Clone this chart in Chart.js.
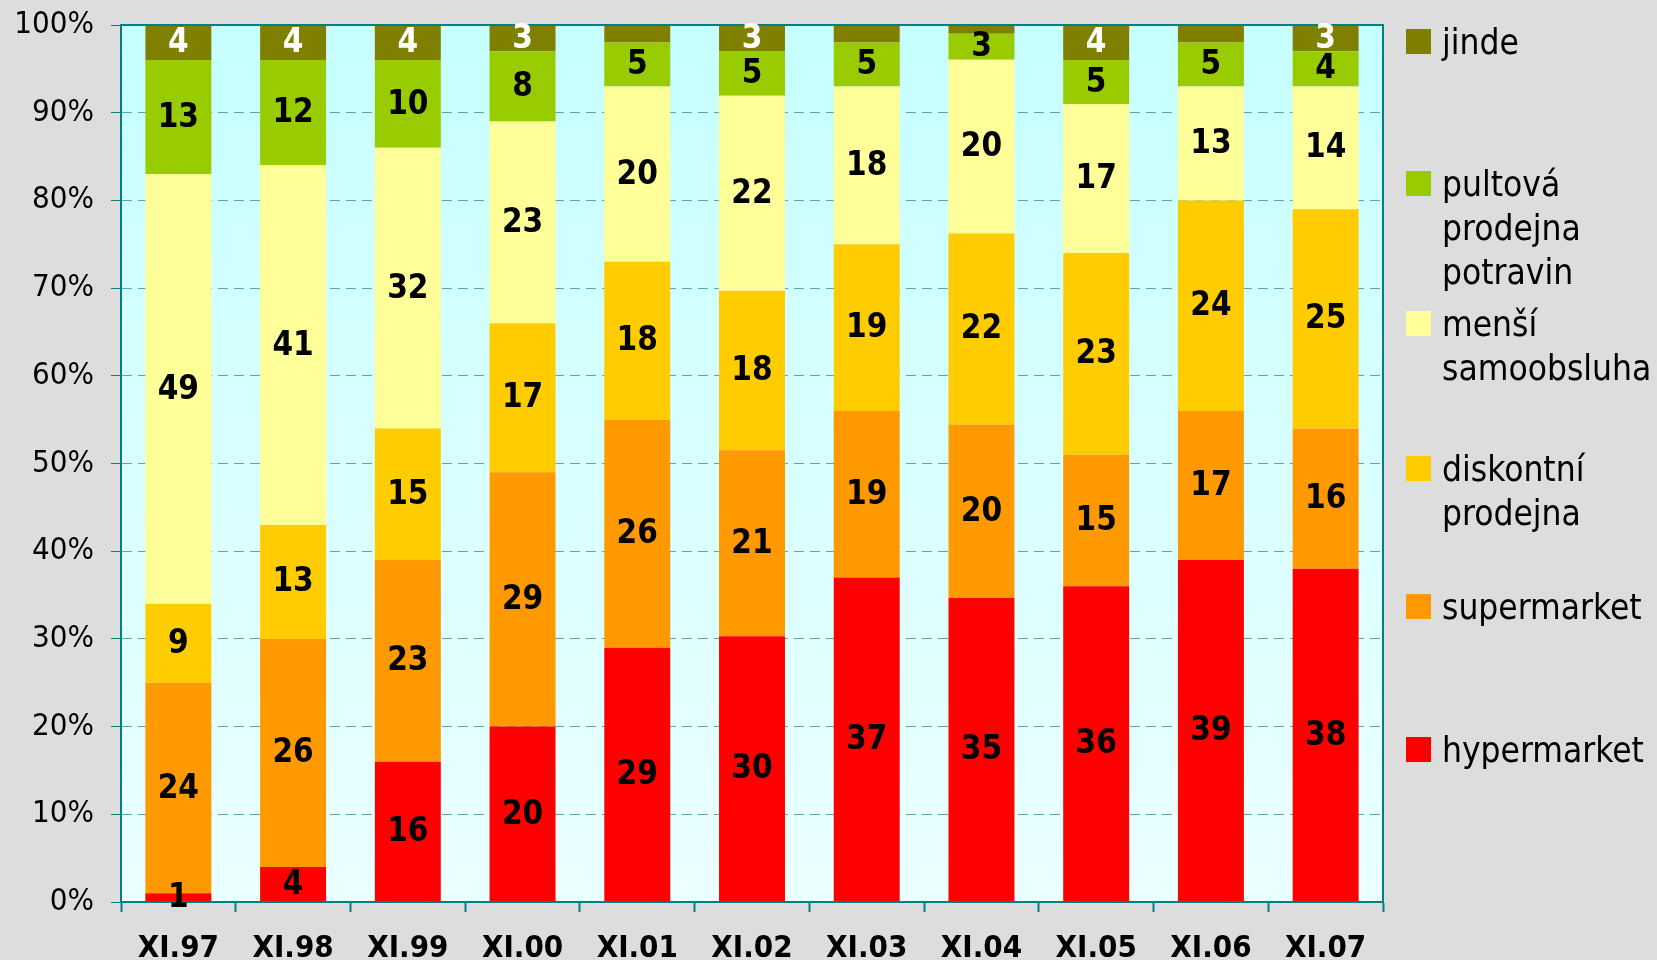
<!DOCTYPE html>
<html>
<head>
<meta charset="utf-8">
<script src="https://cdn.jsdelivr.net/npm/chart.js@4.4.0/dist/chart.umd.min.js"></script>
<style>
  html, body { margin: 0; padding: 0; background: #dddddd; }
  #wrap { position: relative; width: 1657px; height: 960px; overflow: hidden; }
  #legend { position: absolute; left: 0; top: 0; width: 1657px; height: 960px; pointer-events: none; }
  .item { position: absolute; left: 1442px; font-family: 'DejaVu Sans Condensed', 'DejaVu Sans', sans-serif; font-size: 35px; line-height: 44px; color: #000; white-space: nowrap; }
  .sw { position: absolute; left: -36px; top: 9px; width: 25px; height: 25px; }
</style>
</head>
<body>
<div id="wrap">
  <canvas id="c" width="1657" height="960"></canvas>
  <div id="legend"></div>
</div>
<script>
// ---- data ----
const categories = ['XI.97','XI.98','XI.99','XI.00','XI.01','XI.02','XI.03','XI.04','XI.05','XI.06','XI.07'];
const hypermarket = [1, 4, 16, 20, 29, 30, 37, 35, 36, 39, 38];
const supermarket = [24, 26, 23, 29, 26, 21, 19, 20, 15, 17, 16];
const diskontni   = [9, 13, 15, 17, 18, 18, 19, 22, 23, 24, 25];
const mensi       = [49, 41, 32, 23, 20, 22, 18, 20, 17, 13, 14];
const pultova     = [13, 12, 10, 8, 5, 5, 5, 3, 5, 5, 4];
const jinde       = [4, 4, 4, 3, 2, 3, 2, 1, 4, 2, 3];
const seriesNames = ['hypermarket', 'supermarket', ['diskontní','prodejna'], ['menší','samoobsluha'], ['pultová','prodejna','potravin'], 'jinde'];
const seriesValues = [hypermarket, supermarket, diskontni, mensi, pultova, jinde];
const seriesColors = ['#ff0000', '#ff9900', '#ffcc00', '#ffff99', '#99cc00', '#808000'];
const labelColors  = ['#000', '#000', '#000', '#000', '#000', '#fff'];
const yTicks = [0,10,20,30,40,50,60,70,80,90,100];

// ---- layout constants ----
const legendTops = [728, 585, 447, 302, 162, 20]; // per series (same order as seriesValues)
const TEAL = '#008080';

const totals = categories.map((_, i) => seriesValues.reduce((s, arr) => s + arr[i], 0));

const datasets = seriesValues.map((vals, k) => ({
  label: Array.isArray(seriesNames[k]) ? seriesNames[k].join(' ') : seriesNames[k],
  data: vals.map((v, i) => v / totals[i] * 100),
  raw: vals,
  backgroundColor: seriesColors[k],
  borderWidth: 0,
  barPercentage: 0.575,
  categoryPercentage: 1.0
}));

const bgPlugin = {
  id: 'bg',
  beforeDraw(chart) {
    const a = chart.chartArea, ctx = chart.ctx;
    const g = ctx.createLinearGradient(0, a.top, 0, a.bottom);
    g.addColorStop(0, '#c6ffff');
    g.addColorStop(1, '#ebffff');
    ctx.save();
    ctx.fillStyle = g;
    ctx.fillRect(a.left, a.top, a.right - a.left, a.bottom - a.top);
    ctx.restore();
  }
};

const framePlugin = {
  id: 'frame',
  afterDatasetsDraw(chart) {
    const a = chart.chartArea, ctx = chart.ctx;
    ctx.save();
    ctx.strokeStyle = TEAL;
    ctx.lineWidth = 2;
    ctx.strokeRect(a.left, a.top, a.right - a.left, a.bottom - a.top);
    ctx.restore();
  }
};

const labelPlugin = {
  id: 'vlabels',
  afterDatasetsDraw(chart) {
    const ctx = chart.ctx;
    ctx.save();
    ctx.font = "bold 33px 'DejaVu Sans Condensed', 'DejaVu Sans', sans-serif";
    ctx.textAlign = 'center';
    ctx.textBaseline = 'middle';
    chart.data.datasets.forEach((ds, k) => {
      const meta = chart.getDatasetMeta(k);
      meta.data.forEach((el, i) => {
        const v = ds.raw[i];
        if (v < 3 && k === 5) return;
        const y = (el.y + el.base) / 2;
        ctx.fillStyle = labelColors[k];
        ctx.fillText(String(v), el.x, y + 1);
      });
    });
    ctx.restore();
  }
};

new Chart(document.getElementById('c'), {
  type: 'bar',
  data: { labels: categories, datasets },
  plugins: [bgPlugin, framePlugin, labelPlugin],
  options: {
    responsive: false,
    animation: false,
    layout: { padding: { left: 0, top: 25, right: 274, bottom: 0 } },
    plugins: { legend: { display: false }, tooltip: { enabled: false } },
    scales: {
      x: {
        stacked: true,
        afterFit(s) { s.height = 58; s.paddingLeft = 0; s.paddingRight = 0; },
        grid: { drawOnChartArea: false, tickLength: 10, tickColor: TEAL, tickWidth: 2, offset: true },
        border: { color: TEAL, width: 2 },
        ticks: { color: '#000', padding: 18, maxRotation: 0, font: { family: "'DejaVu Sans Condensed', 'DejaVu Sans', sans-serif", size: 31, weight: 'bold' } }
      },
      y: {
        stacked: true,
        min: 0, max: 100,
        afterFit(s) { s.width = 121; s.paddingTop = 0; s.paddingBottom = 0; },
        afterBuildTicks(s) { s.ticks = yTicks.map(v => ({ value: v })); },
        grid: { color: '#5aa9a9', lineWidth: 1, tickLength: 10, tickColor: TEAL, tickWidth: 1 },
        border: { color: TEAL, width: 2, dash: [10, 6] },
        ticks: { color: '#000', padding: 17, callback: v => v + '%', font: { family: "'DejaVu Sans Condensed', 'DejaVu Sans', sans-serif", size: 31 } }
      }
    }
  }
});

// ---- HTML legend ----
const leg = document.getElementById('legend');
seriesNames.forEach((name, k) => {
  const d = document.createElement('div');
  d.className = 'item';
  d.style.top = legendTops[k] + 'px';
  const sw = document.createElement('span');
  sw.className = 'sw';
  sw.style.background = seriesColors[k];
  d.appendChild(sw);
  const lines = Array.isArray(name) ? name : [name];
  lines.forEach((ln, j) => {
    if (j) d.appendChild(document.createElement('br'));
    d.appendChild(document.createTextNode(ln));
  });
  leg.appendChild(d);
});
</script>
</body>
</html>
